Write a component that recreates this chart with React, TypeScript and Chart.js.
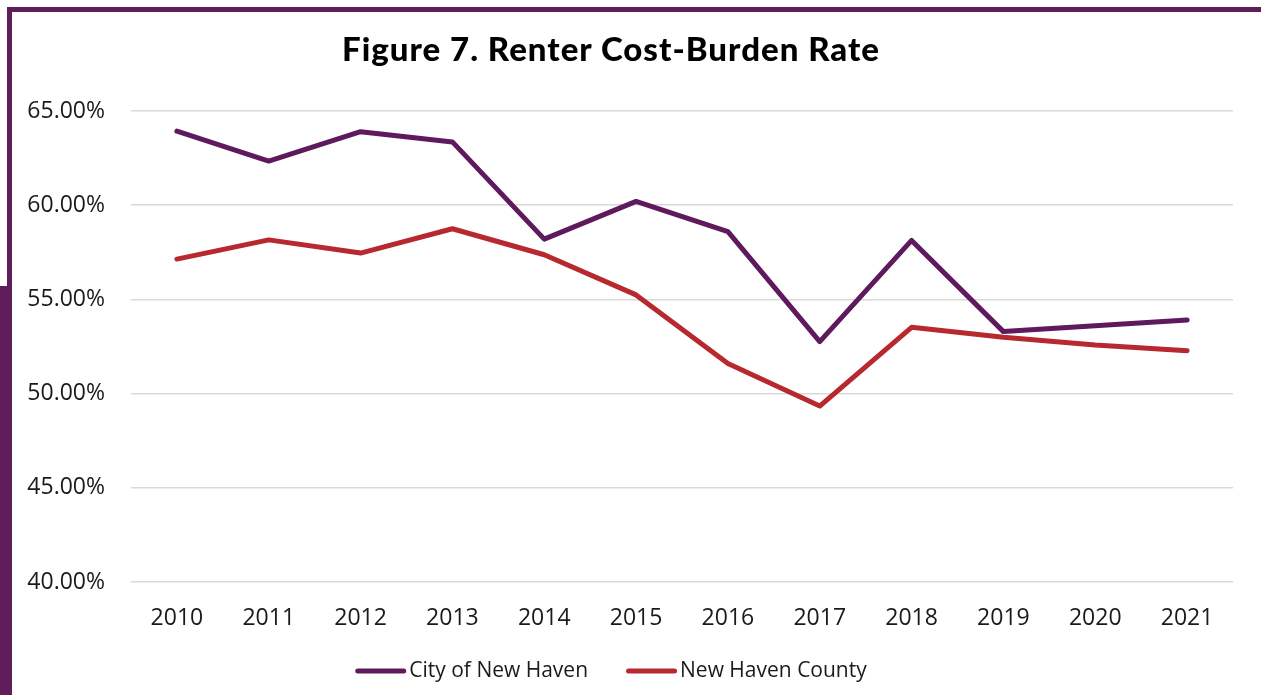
import React, { useEffect, useRef } from "react";
import { Chart, registerables } from "chart.js";

Chart.register(...registerables);

const years = ["2010", "2011", "2012", "2013", "2014", "2015", "2016", "2017", "2018", "2019", "2020", "2021"];
const cityOfNewHaven = [63.93, 62.34, 63.9, 63.36, 58.2, 60.2, 58.6, 52.76, 58.13, 53.29, 53.6, 53.91];
const newHavenCounty = [57.14, 58.16, 57.46, 58.75, 57.37, 55.24, 51.6, 49.34, 53.52, 52.99, 52.58, 52.28];
const seriesNames = ["City of New Haven", "New Haven County"];
const seriesColors = ["#5E1A5C", "#B7282F"];
const yMin = 40;
const yMax = 65;
const yStep = 5;
const titleText = "Figure 7. Renter Cost-Burden Rate";

const FRAME = "#5F1D5A";
const TEXT = "#1a1a1a";
const TICK_FONT = "'Open Sans', 'Noto Sans', sans-serif";

const bottomLegend = {
  id: "bottomLegend",
  afterDraw(chart: any) {
    const ctx = chart.ctx;
    ctx.save();
    ctx.font = `21px ${TICK_FONT}`;
    const lineW = 51;
    const textGap = 3;
    const itemGap = 38;
    const items = chart.data.datasets.map((ds: any) => ({
      label: ds.label,
      color: ds.borderColor,
      w: lineW + textGap + ctx.measureText(ds.label).width,
    }));
    const total = items.reduce((a: number, it: any) => a + it.w, 0) + itemGap * (items.length - 1);
    let x = 611 - total / 2;
    const lineY = 671;
    const baseY = 677;
    for (const it of items) {
      ctx.strokeStyle = it.color;
      ctx.lineWidth = 5;
      ctx.lineCap = "round";
      ctx.beginPath();
      ctx.moveTo(x + 2.5, lineY);
      ctx.lineTo(x + lineW - 2.5, lineY);
      ctx.stroke();
      ctx.fillStyle = TEXT;
      ctx.textAlign = "left";
      ctx.textBaseline = "alphabetic";
      ctx.fillText(it.label, x + lineW + textGap, baseY);
      x += it.w + itemGap;
    }
    ctx.restore();
  },
};

export default function App() {
  const ref = useRef<HTMLCanvasElement | null>(null);

  useEffect(() => {
    if (!ref.current) return;
    const chart = new Chart(ref.current, {
      type: "line",
      data: {
        labels: years,
        datasets: [
          {
            label: seriesNames[0],
            data: cityOfNewHaven,
            borderColor: seriesColors[0],
            backgroundColor: seriesColors[0],
            borderWidth: 5,
            pointRadius: 0,
            tension: 0,
            borderCapStyle: "round",
            borderJoinStyle: "round",
          },
          {
            label: seriesNames[1],
            data: newHavenCounty,
            borderColor: seriesColors[1],
            backgroundColor: seriesColors[1],
            borderWidth: 5,
            pointRadius: 0,
            tension: 0,
            borderCapStyle: "round",
            borderJoinStyle: "round",
          },
        ],
      },
      options: {
        animation: false,
        responsive: false,
        maintainAspectRatio: false,
        layout: { padding: { top: 111, right: 28, bottom: 0, left: 0 } },
        plugins: {
          legend: { display: false },
          title: { display: false },
          tooltip: { enabled: false },
        },
        scales: {
          x: {
            offset: true,
            grid: { display: false, drawTicks: false },
            border: { display: false },
            ticks: {
              font: { family: TICK_FONT, size: 23 },
              color: TEXT,
              padding: 23,
              maxRotation: 0,
            },
            afterFit: (s: any) => {
              s.height = 113;
            },
          },
          y: {
            min: yMin,
            max: yMax,
            grid: { color: "#d9d9d9", lineWidth: 1.5, drawTicks: false },
            border: { display: false },
            ticks: {
              stepSize: yStep,
              font: { family: TICK_FONT, size: 23 },
              color: TEXT,
              padding: 26,
              callback: (v: any) => Number(v).toFixed(2) + "%",
            },
            afterFit: (s: any) => {
              s.width = 131;
            },
          },
        },
      },
      plugins: [bottomLegend],
    });
    return () => chart.destroy();
  }, []);

  return (
    <div style={{ position: "fixed", left: 0, top: 0, width: 1261, height: 695, background: "#fff", overflow: "hidden" }}>
      <canvas ref={ref} width={1261} height={695} style={{ position: "absolute", left: 0, top: 0, width: 1261, height: 695 }} />
      <div
        style={{
          position: "absolute",
          left: 0,
          top: 28,
          width: 1222,
          textAlign: "center",
          fontFamily: "Lato, 'DejaVu Sans', sans-serif",
          fontWeight: 900,
          fontSize: 33,
          letterSpacing: 1,
          lineHeight: "40px",
          color: "#000",
          whiteSpace: "nowrap",
        }}
      >
        {titleText}
      </div>
      <div style={{ position: "absolute", left: 7, top: 7, width: 1254, height: 5, background: FRAME }} />
      <div style={{ position: "absolute", left: 7, top: 7, width: 5, height: 280, background: FRAME }} />
      <div style={{ position: "absolute", left: 0, top: 286, width: 12, height: 409, background: FRAME }} />
    </div>
  );
}
